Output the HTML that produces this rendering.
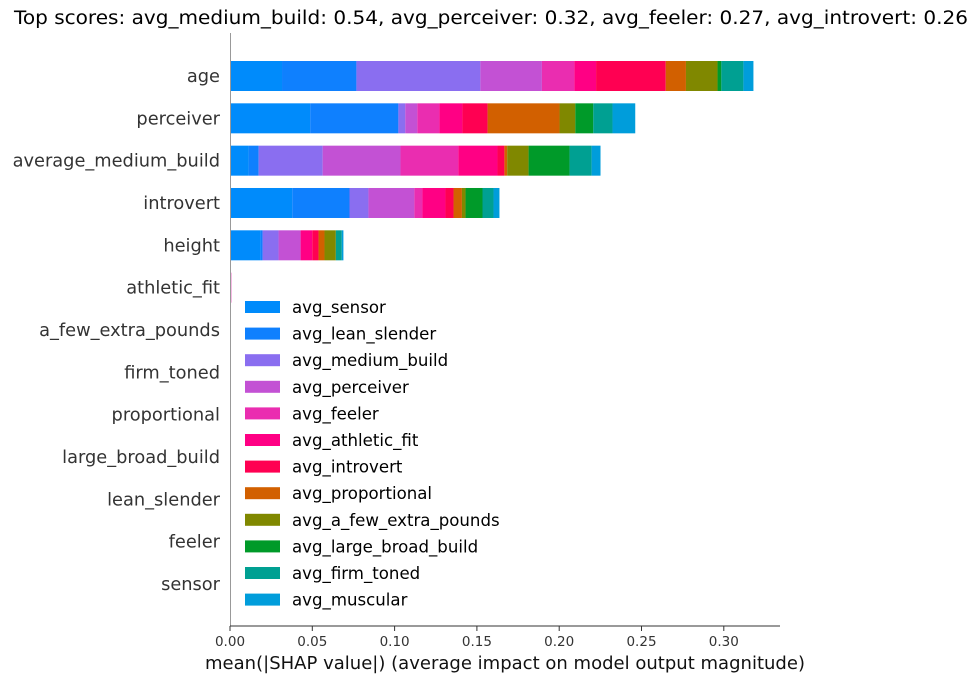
<!DOCTYPE html>
<html><head><meta charset="utf-8"><style>
body{margin:0;background:#fff;width:979px;height:683px;overflow:hidden;font-family:"Liberation Sans","DejaVu Sans",sans-serif;}
</style></head><body>
<svg id="chart" width="979" height="683" xmlns="http://www.w3.org/2000/svg" font-family="DejaVu Sans, Liberation Sans, sans-serif">
<text x="14" y="24" font-size="18.5" textLength="954" lengthAdjust="spacingAndGlyphs" fill="#000">Top scores: avg_medium_build: 0.54, avg_perceiver: 0.32, avg_feeler: 0.27, avg_introvert: 0.26</text>
<g id="bars"></g>
<g id="labels"></g>
<g id="ticks"></g>
<g id="legend"></g>
<line x1="230.5" y1="33" x2="230.5" y2="626" stroke="#999" stroke-width="1"/>
<line x1="230" y1="626" x2="780" y2="626" stroke="#333" stroke-width="1"/>
<text x="205" y="669" font-size="17.5" textLength="600" lengthAdjust="spacingAndGlyphs" fill="#111">mean(|SHAP value|) (average impact on model output magnitude)</text>
</svg>
<script>
const features = ["age","perceiver","average_medium_build","introvert","height","athletic_fit","a_few_extra_pounds","firm_toned","proportional","large_broad_build","lean_slender","feeler","sensor"];
const classes = ["avg_sensor","avg_lean_slender","avg_medium_build","avg_perceiver","avg_feeler","avg_athletic_fit","avg_introvert","avg_proportional","avg_a_few_extra_pounds","avg_large_broad_build","avg_firm_toned","avg_muscular"];
const colors = ["#008bfb","#0f80fe","#8a6ef0","#c351d4","#ea2db0","#ff0084","#ff0052","#d26000","#808800","#009a29","#00a092","#009ddb"];
const vAge = [0.0316,0.0452,0.0753,0.0374,0.0197,0.0132,0.0423,0.0123,0.0192,0.0023,0.0134,0.0061];
const vPerceiver = [0.0487,0.0536,0.0042,0.0073,0.0134,0.0140,0.0153,0.0437,0.0096,0.0109,0.0117,0.0138];
const vMedium = [0.0113,0.0061,0.0389,0.0473,0.0351,0.0238,0.0042,0.0017,0.0130,0.0249,0.0134,0.0054];
const vIntrovert = [0.0378,0.0348,0.0115,0.0279,0.0049,0.0140,0.0049,0.0051,0.0022,0.0103,0.0067,0.0036];
const vHeight = [0.0186,0.0012,0.0097,0.0134,0,0.0071,0.0038,0.0036,0.0069,0,0.0036,0.0010];
const vAthletic = [0,0,0,0,0.0008,0,0,0,0,0,0,0];
const zeros = [0,0,0,0,0,0,0,0,0,0,0,0];
const values = [vAge,vPerceiver,vMedium,vIntrovert,vHeight,vAthletic,zeros,zeros,zeros,zeros,zeros,zeros,zeros];
const xTicks = [0,0.05,0.10,0.15,0.20,0.25,0.30];
const xTickLabels = ["0.00","0.05","0.10","0.15","0.20","0.25","0.30"];

const NS="http://www.w3.org/2000/svg";
const x = v => 230 + v*1646;
const y = i => 76 + i*42.33;
function mk(tag, attrs, parent){const e=document.createElementNS(NS,tag);for(const k in attrs)e.setAttribute(k,attrs[k]);parent.appendChild(e);return e;}
const gB=document.getElementById('bars'), gL=document.getElementById('labels'), gT=document.getElementById('ticks'), gLeg=document.getElementById('legend');
features.forEach((f,i)=>{
  let acc=0;
  values[i].forEach((v,c)=>{
    if(v>0){
      const r=mk('rect',{x:x(acc),y:y(i)-15,width:x(acc+v)-x(acc),height:30,fill:colors[c]},gB);
      
      
    }
    acc+=v;
  });
  const t=mk('text',{x:220,y:y(i)+6,'text-anchor':'end','font-size':17.8,fill:'#333'},gL);
  t.textContent=f;
  
  
});
xTicks.forEach((v,k)=>{
  const l=mk('line',{x1:x(v),y1:626,x2:x(v),y2:631,stroke:'#333'},gT);
  
  
  const t=mk('text',{x:x(v),y:646,'text-anchor':'middle','font-size':13.5,fill:'#333'},gT);
  t.textContent=xTickLabels[k];
  
  
});
classes.forEach((c,k)=>{
  const yy=307+k*26.6;
  const r=mk('rect',{x:245,y:yy-6,width:35,height:12,fill:colors[k]},gLeg);
  
  
  const t=mk('text',{x:292,y:yy+6,'font-size':16.6,fill:'#000'},gLeg);
  t.textContent=c;
  
  
});
</script>
</body></html>
